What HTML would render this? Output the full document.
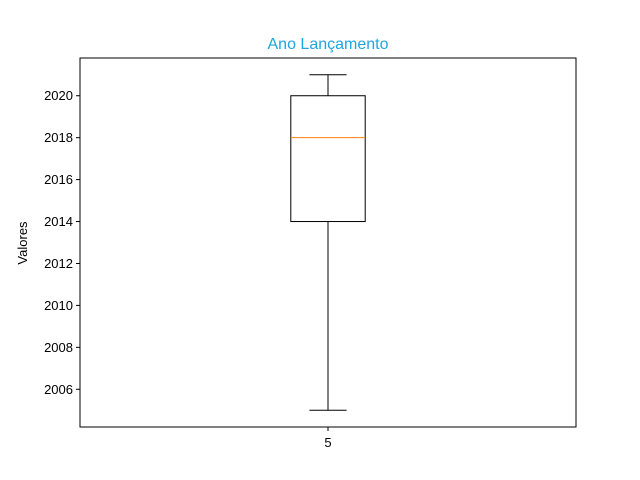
<!DOCTYPE html>
<html><head><meta charset="utf-8"><style>body{margin:0;background:#fff}svg{display:block;font-family:"Liberation Sans","DejaVu Sans",sans-serif}</style></head>
<body>
<svg id="chart" width="640" height="480">
<rect width="640" height="480" fill="#fff"/>
<text x="328" y="49" text-anchor="middle" font-size="16" fill="#1fa5e0">Ano Lançamento</text>
<text transform="translate(27,243) rotate(-90)" text-anchor="middle" font-size="13">Valores</text>
<g id="ticks"></g>
<g id="box"></g>
<rect x="80" y="58" width="496" height="369" fill="none" stroke="#000" stroke-width="1"/>
</svg>
<script>
const categories = ["5"];
const whiskerLow = [2005];
const q1 = [2014];
const median = [2018];
const q3 = [2020];
const whiskerHigh = [2021];
const yTicks = [2006, 2008, 2010, 2012, 2014, 2016, 2018, 2020];
const yMin = 2004.2, yMax = 2021.8;
const L = 80, R = 576, T = 58, B = 427;
const y = v => B - (v - yMin) / (yMax - yMin) * (B - T);
const x = i => L + (i + 1 - 0.5) / 1 * (R - L);
const NS = "http://www.w3.org/2000/svg";
function mk(parent, tag, attrs) { const e = document.createElementNS(NS, tag); for (const k in attrs) e.setAttribute(k, attrs[k]); parent.appendChild(e); return e; }
const tg = document.getElementById('ticks');
yTicks.forEach(t => {
  const l = mk(tg, 'line', {x1: L - 4, x2: L, y1: y(t), y2: y(t), stroke: '#000'});
  
  
  const tx = mk(tg, 'text', {x: L - 7, y: y(t) + 4.5, 'text-anchor': 'end', 'font-size': 13});
  tx.textContent = t;
  
  
});
const bg = document.getElementById('box');
const bw = 0.15 * (R - L) / 1;
categories.forEach((c, i) => {
  const cx = x(i);
  const lt = mk(tg, 'line', {x1: cx, x2: cx, y1: B, y2: B + 4, stroke: '#000'});
  
  
  const xt = mk(tg, 'text', {x: cx, y: B + 20, 'text-anchor': 'middle', 'font-size': 13});
  xt.textContent = c;
  
  
  const w1 = mk(bg, 'line', {x1: cx, x2: cx, y1: y(whiskerLow[i]), y2: y(q1[i]), stroke: '#000'});
  
  
  const w2 = mk(bg, 'line', {x1: cx, x2: cx, y1: y(q3[i]), y2: y(whiskerHigh[i]), stroke: '#000'});
  
  
  const c1 = mk(bg, 'line', {x1: cx - bw / 4, x2: cx + bw / 4, y1: y(whiskerLow[i]), y2: y(whiskerLow[i]), stroke: '#000'});
  
  
  const c2 = mk(bg, 'line', {x1: cx - bw / 4, x2: cx + bw / 4, y1: y(whiskerHigh[i]), y2: y(whiskerHigh[i]), stroke: '#000'});
  
  
  const r = mk(bg, 'rect', {x: cx - bw / 2, y: y(q3[i]), width: bw, height: y(q1[i]) - y(q3[i]), fill: 'none', stroke: '#000'});
  
  
  const m = mk(bg, 'line', {x1: cx - bw / 2, x2: cx + bw / 2, y1: y(median[i]), y2: y(median[i]), stroke: '#ff7f0e'});
  
  
});
</script>
</body></html>
